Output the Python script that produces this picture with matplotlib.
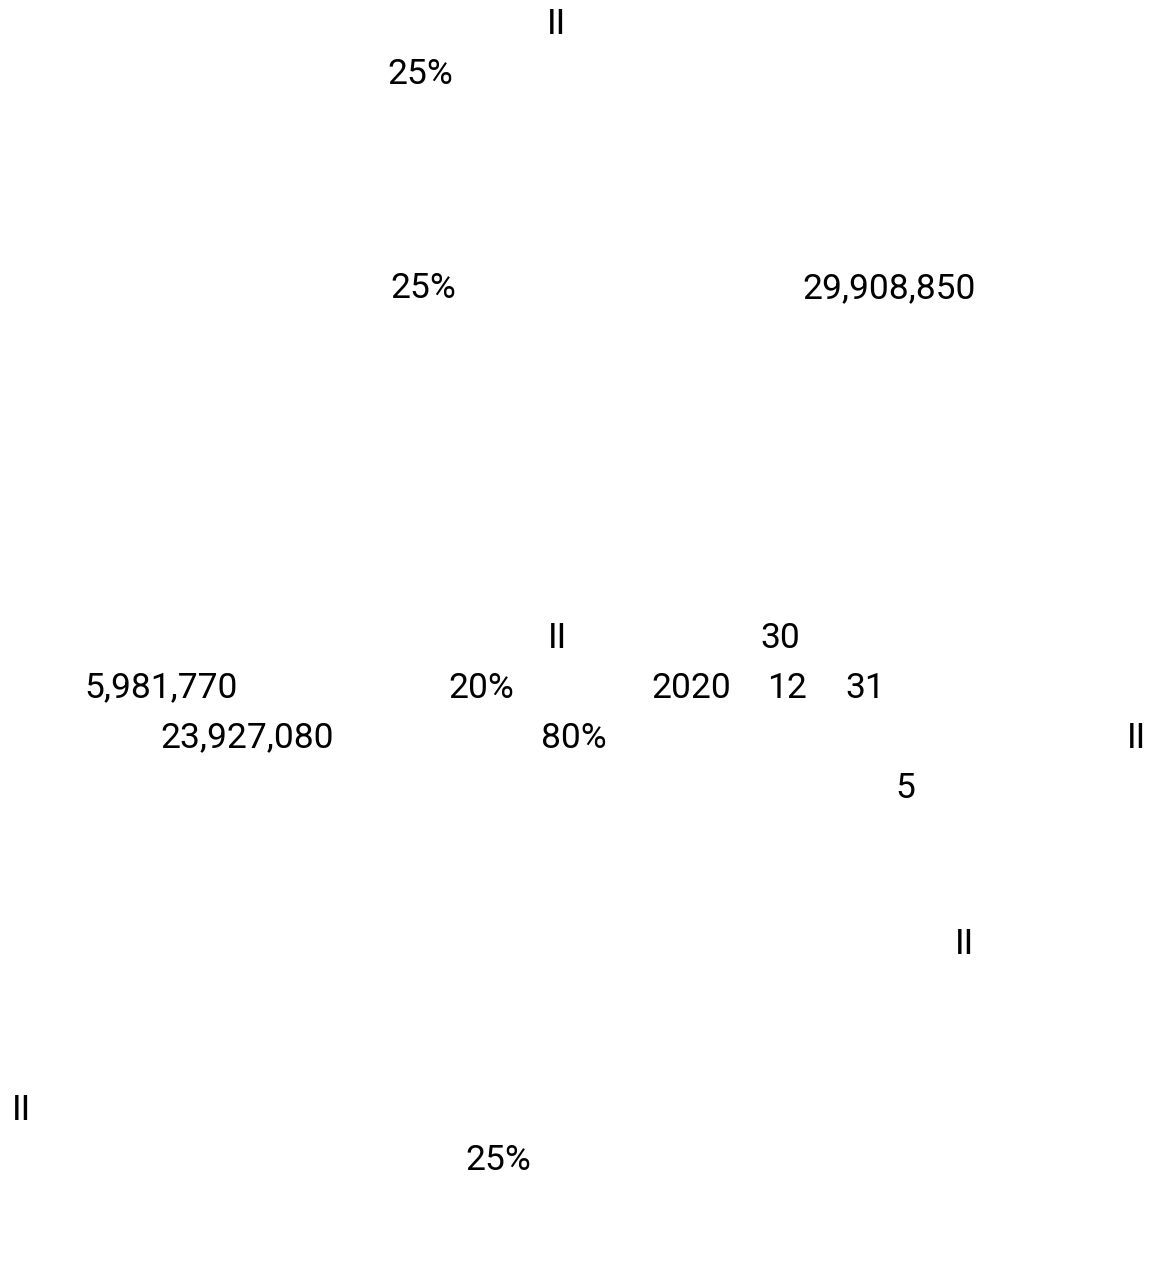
import matplotlib
matplotlib.use("Agg")
import matplotlib.pyplot as plt

# 页面上能显示出来的拉丁字符片段（中文字形缺失）
fragments = ["II", "25%", "25%", "29,908,850",
             "II", "30",
             "5,981,770", "20%", "2020", "12", "31",
             "23,927,080", "80%", "II",
             "5", "II", "II", "25%"]
frag_x = [547, 387, 390, 802,
          548, 760,
          84, 448, 651, 767, 845,
          160, 541, 1127,
          895, 955, 12, 465]
frag_y = [25, 75, 289, 289,
          638, 638,
          688, 688, 688, 688, 688,
          738, 738, 738,
          788, 945, 1110, 1160]

W, H = 1151, 1276
fig = plt.figure(figsize=(W / 100, H / 100), dpi=100)
ax = fig.add_axes([0, 0, 1, 1])
ax.set_xlim(0, W)
ax.set_ylim(H, 0)
ax.axis("off")

for s, x, y in zip(fragments, frag_x, frag_y):
    ax.text(x, y, s, fontsize=25.5, family="Roboto", color="black",
            ha="left", va="center")

fig.savefig("out.png", dpi=100, facecolor="white")
